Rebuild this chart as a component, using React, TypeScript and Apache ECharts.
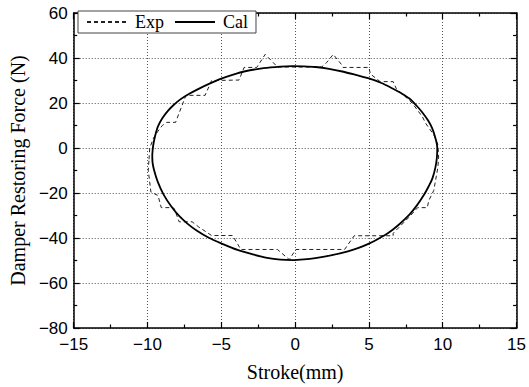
import React, { useEffect, useRef } from "react";
import * as echarts from "echarts";

const seriesNames = ["Exp", "Cal"];

// Experimental loop (dashed)
const expX = [
  -9.9, -9.85, -9.6, -9.3, -9.0, -8.7, -8.1, -7.4, -6.1, -5.66, -3.8, -3.46, -2.6, -2.03, -1.49,
  -1.2, 1.8, 2.14, 2.58, 3.13, 3.24, 5.0, 5.1, 5.76, 6.64, 6.86, 7.74, 7.96, 8.62, 8.84, 9.39,
  9.67, 9.72, 9.67, 9.39, 9.06, 8.95, 8.3, 7.74, 6.64, 6.64, 4.0, 3.35, 0.05, -0.4, -1.2,
  -3.68, -4.24, -5.66, -6.55, -6.98, -7.86, -8.19, -8.3, -9.07, -9.29, -9.77, -9.95, -9.9,
];
const expY = [
  -5, 0, 4.4, 7.4, 10, 11.4, 11.4, 23.4, 23.4, 30, 30.2, 35.8, 35.8, 41.6, 38,
  36, 36, 38, 41.6, 37.2, 35.8, 35.8, 32.9, 29.5, 29.5, 26.3, 21.2, 19.7, 13.9, 11, 5.9,
  1.5, -4, -8.7, -18.9, -23.3, -26.5, -26.5, -30.6, -37.9, -39, -39, -45.1, -45.1, -49.6, -45.1,
  -45.1, -38.9, -38.9, -35, -32.8, -32.8, -26.9, -26.5, -26.5, -21.1, -19.6, -10, -5,
];

// Calculated loop (solid)
const calX = [
  -9.68, -9.62, -9.5, -9.3, -9.0, -8.65, -8.25, -7.8, -7.2, -6.54, -5.8, -5.05, -4.2, -3.46,
  -2.14, -1.0, -0.2, 0.6, 1.4, 2.3, 3.2, 4.1, 5.0, 5.8, 6.5, 7.2, 7.74, 8.2, 8.62, 9.0, 9.28,
  9.5, 9.63, 9.6, 9.5, 9.3, 9.05, 8.73, 8.25, 7.74, 7.0, 6.3, 5.65, 5.0, 4.3, 3.57, 2.5, 1.37,
  0.6, -0.17, -1.0, -1.9, -2.8, -3.9, -5.0, -5.88, -6.65, -7.3, -7.86, -8.4, -8.92, -9.3, -9.55,
  -9.66, -9.68,
];
const calY = [
  -3, 1, 5, 9.5, 13.2, 16.3, 19.0, 21.5, 24.0, 26.3, 28.6, 30.7, 32.6, 34.0,
  35.5, 36.2, 36.4, 36.3, 36.0, 35.2, 34.0, 32.5, 30.9, 29, 26.8, 24.3, 22, 19, 15.8, 12.3, 8.8,
  4.5, 0, -4.5, -8.7, -13.5, -17, -20.8, -25.5, -29.6, -34.2, -37.8, -40.3, -42.5, -44.4, -45.9, -47.6, -48.9,
  -49.5, -49.8, -49.6, -48.8, -47.4, -45.3, -42.4, -39.8, -36.8, -33.6, -30.2, -25.9, -20.6, -15.2, -10,
  -6.5, -3,
];

const xRange = { min: -15, max: 15, interval: 5 };
const yRange = { min: -80, max: 60, interval: 20 };
const xAxisTitle = "Stroke(mm)";
const yAxisTitle = "Damper Restoring Force (N)";

const SANS = "Liberation Sans, Arial, sans-serif";
const SERIF = "Liberation Serif, Times New Roman, serif";

const fmt = (v: number) => String(v).replace("-", "\u2212");

export default function App() {
  const ref = useRef<HTMLDivElement>(null);
  useEffect(() => {
    if (!ref.current) return;
    const chart = echarts.init(ref.current, null, { renderer: "svg" });
    const lineStyle = { color: "#000", width: 1.5 };
    const tick = { show: true, inside: true, length: 6, lineStyle: { color: "#000", width: 1.2 } };
    const minor = { show: true, splitNumber: 2, length: 3.5, lineStyle: { color: "#000", width: 1.2 } };
    const split = { show: true, lineStyle: { color: "#555", width: 1, type: [1, 2] as any } };
    const label = { color: "#000", fontFamily: SANS, fontSize: 17, formatter: fmt };
    const nameStyle = { color: "#000", fontFamily: SERIF, fontSize: 20 };

    chart.setOption({
      animation: false,
      backgroundColor: "#fff",
      grid: { left: 65, right: 9, top: 13, bottom: 54, containLabel: false },
      legend: {
        left: 78,
        top: 11,
        orient: "horizontal",
        data: seriesNames,
        itemWidth: 40,
        itemHeight: 10,
        itemGap: 10,
        padding: [2, 8, 2, 8],
        backgroundColor: "#fff",
        borderColor: "#444",
        borderWidth: 1,
        borderRadius: 0,
        itemStyle: { opacity: 0, borderWidth: 0 },
        textStyle: { color: "#000", fontFamily: SERIF, fontSize: 18, padding: [0, 0, 0, 3] },
      },
      xAxis: [
        {
          type: "value",
          position: "bottom",
          min: xRange.min,
          max: xRange.max,
          interval: xRange.interval,
          axisLine: { show: true, onZero: false, lineStyle },
          axisTick: tick,
          minorTick: minor,
          splitLine: split,
          axisLabel: { ...label, margin: 8 },
          name: xAxisTitle,
          nameLocation: "middle",
          nameGap: 34,
          nameTextStyle: nameStyle,
        },
        {
          type: "value",
          position: "top",
          min: xRange.min,
          max: xRange.max,
          interval: xRange.interval,
          axisLine: { show: true, onZero: false, lineStyle },
          axisTick: tick,
          minorTick: minor,
          splitLine: { show: false },
          axisLabel: { show: false },
        },
      ],
      yAxis: [
        {
          type: "value",
          position: "left",
          min: yRange.min,
          max: yRange.max,
          interval: yRange.interval,
          axisLine: { show: true, onZero: false, lineStyle },
          axisTick: tick,
          minorTick: minor,
          splitLine: split,
          axisLabel: { ...label, margin: 6 },
          name: yAxisTitle,
          nameLocation: "middle",
          nameGap: 40,
          nameRotate: 90,
          nameTextStyle: nameStyle,
        },
        {
          type: "value",
          position: "right",
          min: yRange.min,
          max: yRange.max,
          interval: yRange.interval,
          axisLine: { show: true, onZero: false, lineStyle },
          axisTick: tick,
          minorTick: minor,
          splitLine: { show: false },
          axisLabel: { show: false },
        },
      ],
      series: [
        {
          name: seriesNames[0],
          type: "line",
          xAxisIndex: 0,
          yAxisIndex: 0,
          data: expX.map((x, i) => [x, expY[i]]),
          showSymbol: false,
          symbol: "none",
          lineStyle: { color: "#222", width: 1, type: [4, 3] },
          itemStyle: { color: "#000" },
          z: 3,
        },
        {
          name: seriesNames[1],
          type: "line",
          xAxisIndex: 0,
          yAxisIndex: 0,
          data: calX.map((x, i) => [x, calY[i]]),
          smooth: 0.3,
          showSymbol: false,
          symbol: "none",
          lineStyle: { color: "#000", width: 1.8, type: "solid" },
          itemStyle: { color: "#000" },
          z: 4,
        },
      ],
    });
    return () => chart.dispose();
  }, []);
  return (
    <div
      ref={ref}
      style={{ position: "fixed", left: 0, top: 0, width: 529, height: 387 }}
    />
  );
}
